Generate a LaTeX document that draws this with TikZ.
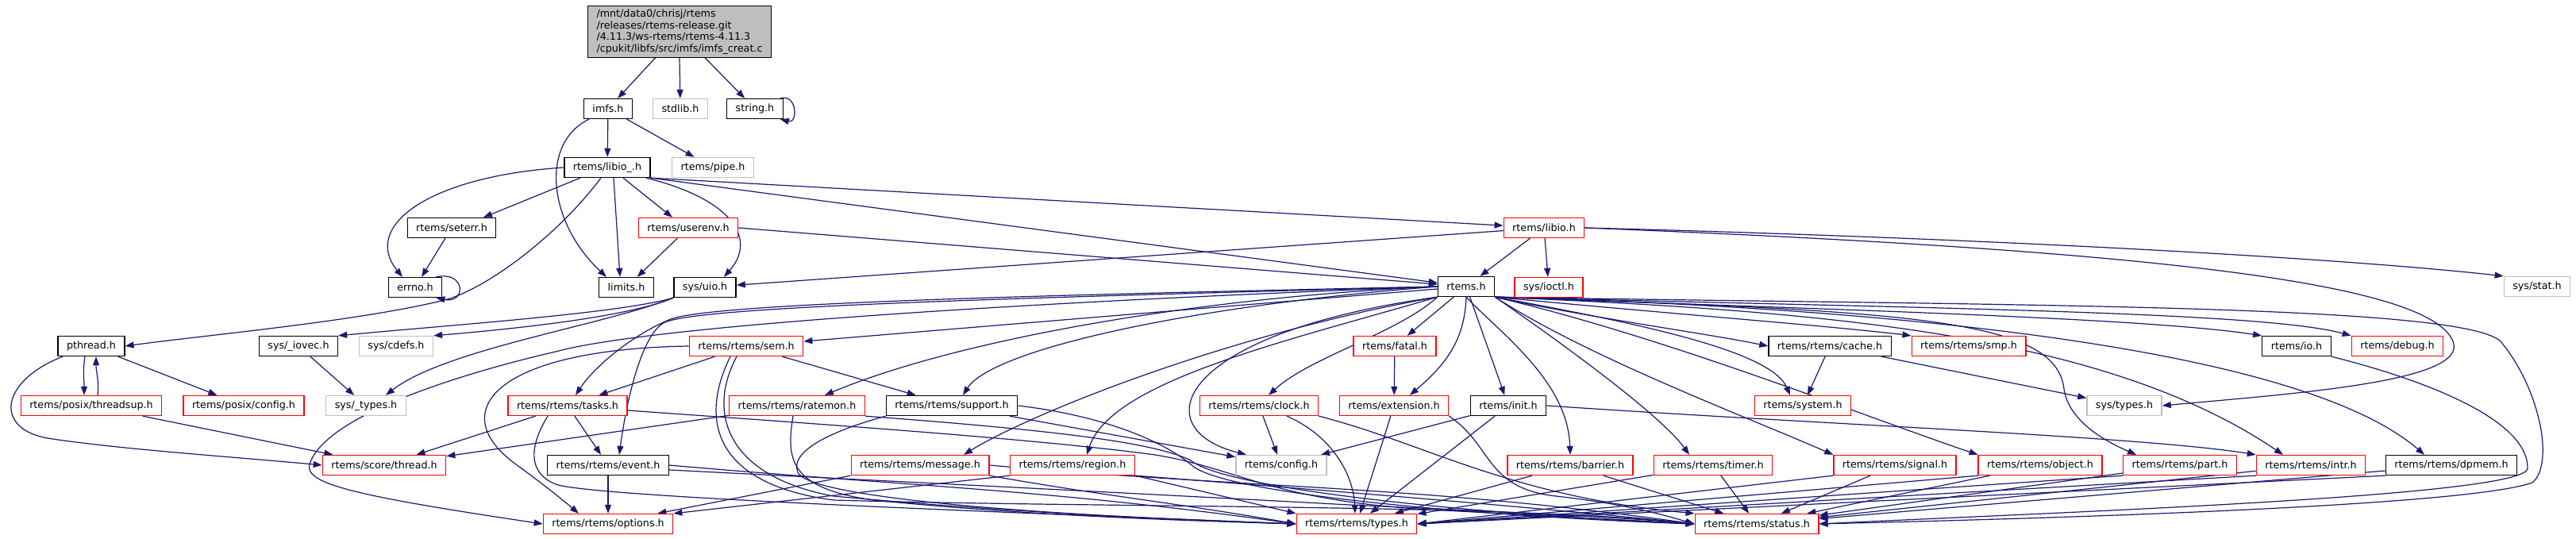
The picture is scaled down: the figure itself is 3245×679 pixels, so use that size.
\documentclass[tikz,border=0pt]{standalone}
\usepackage{fontspec}
\setmainfont{DejaVu Sans}
\usetikzlibrary{arrows.meta,backgrounds}
\definecolor{edgeblue}{HTML}{191970}
\definecolor{boxgray}{HTML}{BFBFBF}
\definecolor{boxred}{HTML}{FF0000}
\tikzset{
  hdr/.style={draw=black, fill=white, line width=1.3pt, minimum height=25pt,
    inner xsep=11pt, inner ysep=0pt, font=\fontsize{12.7}{15}\selectfont},
  hdrred/.style={hdr, draw=boxred},
  hdrgray/.style={hdr, draw=boxgray},
  dep/.style={->, draw=edgeblue, line width=1.2pt},
  >={Triangle[length=11pt,width=8pt]}
}
\begin{document}
\begin{tikzpicture}[x=1pt,y=1pt]
			\useasboundingbox (0,0) rectangle (3245,-679);
			% headers
			\node[hdr, fill=boxgray, align=left, inner ysep=4pt, font=\fontsize{12.7}{14.6}\selectfont] (main) at (856,-40) {/mnt/data0/chrisj/rtems\\/releases/rtems-release.git\\/4.11.3/ws-rtems/rtems-4.11.3\\/cpukit/libfs/src/imfs/imfs\_creat.c};
			\node[hdr] (imfs) at (766,-137) {imfs.h};
			\node[hdrgray] (stdlib) at (857,-137) {stdlib.h};
			\node[hdr] (string) at (951,-137) {string.h};
			\node[hdr] (libioi) at (765,-211) {rtems/libio\_.h};
			\node[hdrgray] (pipe) at (898,-211) {rtems/pipe.h};
			\node[hdr] (seterr) at (569,-287) {rtems/seterr.h};
			\node[hdrred] (userenv) at (867,-287) {rtems/userenv.h};
			\node[hdrred] (libio) at (1945,-287) {rtems/libio.h};
			\node[hdr] (errno) at (523,-362) {errno.h};
			\node[hdr] (limits) at (789,-362) {limits.h};
			\node[hdr] (uio) at (888,-362) {sys/uio.h};
			\node[hdr] (rtemsh) at (1847,-361) {rtems.h};
			\node[hdrred] (ioctl) at (1951,-362) {sys/ioctl.h};
			\node[hdrgray] (stat) at (3196,-361) {sys/stat.h};
			\node[hdr] (pthread) at (115,-436) {pthread.h};
			\node[hdr] (iovec) at (376,-436) {sys/\_iovec.h};
			\node[hdrgray] (cdefs) at (499,-436) {sys/cdefs.h};
			\node[hdrred] (sem) at (940,-436) {rtems/rtems/sem.h};
			\node[hdrred] (fatal) at (1757,-436) {rtems/fatal.h};
			\node[hdr] (cache) at (2305,-436) {rtems/rtems/cache.h};
			\node[hdrred] (smp) at (2480,-436) {rtems/rtems/smp.h};
			\node[hdr] (io) at (2893,-436) {rtems/io.h};
			\node[hdrred] (debug) at (3020,-436) {rtems/debug.h};
			\node[hdrred] (threadsup) at (115,-511) {rtems/posix/threadsup.h};
			\node[hdrred] (posixcfg) at (307,-511) {rtems/posix/config.h};
			\node[hdrgray] (ustypes) at (461,-511) {sys/\_types.h};
			\node[hdrred] (tasks) at (715,-511) {rtems/rtems/tasks.h};
			\node[hdrred] (ratemon) at (1004,-511) {rtems/rtems/ratemon.h};
			\node[hdr] (support) at (1199,-511) {rtems/rtems/support.h};
			\node[hdrred] (clock) at (1586,-511) {rtems/rtems/clock.h};
			\node[hdrred] (extension) at (1756,-511) {rtems/extension.h};
			\node[hdr] (init) at (1900,-511) {rtems/init.h};
			\node[hdrred] (system) at (2271,-511) {rtems/system.h};
			\node[hdrgray] (systypes) at (2676,-511) {sys/types.h};
			\node[hdrred] (thread) at (484,-586) {rtems/score/thread.h};
			\node[hdr] (event) at (766,-586) {rtems/rtems/event.h};
			\node[hdrred] (message) at (1159,-586) {rtems/rtems/message.h};
			\node[hdrred] (region) at (1351,-586) {rtems/rtems/region.h};
			\node[hdrgray] (config) at (1614,-586) {rtems/config.h};
			\node[hdrred] (barrier) at (1978,-586) {rtems/rtems/barrier.h};
			\node[hdrred] (timer) at (2158,-586) {rtems/rtems/timer.h};
			\node[hdrred] (signal) at (2387,-586) {rtems/rtems/signal.h};
			\node[hdrred] (object) at (2570,-586) {rtems/rtems/object.h};
			\node[hdrred] (part) at (2746,-586) {rtems/rtems/part.h};
			\node[hdrred] (intr) at (2911,-586) {rtems/rtems/intr.h};
			\node[hdr] (dpmem) at (3088,-586) {rtems/rtems/dpmem.h};
			\node[hdrred] (options) at (766,-660) {rtems/rtems/options.h};
			\node[hdrred] (types) at (1709,-660) {rtems/rtems/types.h};
			\node[hdrred] (status) at (2213,-660) {rtems/rtems/status.h};
			\begin{scope}[on background layer]
			% includes
			\draw[dep] (main) -- (imfs);
			\draw[dep] (main.south) -- (stdlib);
			\draw[dep] (main) -- (string);
			\draw[dep] ([xshift=-4pt]string.north east) .. controls +(22,6) and +(22,-6) .. ([xshift=-4pt]string.south east);
			\draw[dep] (imfs) -- (libioi);
			\draw[dep] (imfs) -- (pipe);
			\draw[dep] ([xshift=-24pt]imfs.south) .. controls (680,-180) and (690,-280) .. ([xshift=-25pt]limits.north);
			\draw[dep] (libioi.west) .. controls (540,-222) and (455,-285) .. ([xshift=-16pt]errno.north);
			\draw[dep] ([xshift=-34pt]libioi.south) -- ([xshift=40pt]seterr.north);
			\draw[dep] ([xshift=-8pt]libioi.south) .. controls (700,-300) and (610,-365) .. (560,-378) .. controls (450,-405) and (260,-422) .. (pthread.east);
			\draw[dep] ([xshift=8pt]libioi.south) -- ([xshift=-8pt]limits.north);
			\draw[dep] ([xshift=20pt]libioi.south) -- ([xshift=-20pt]userenv.north);
			\draw[dep] ([xshift=-6pt]libioi.south east) .. controls (920,-250) and (955,-300) .. ([xshift=24pt]uio.north);
			\draw[dep] (libioi.south east) -- (rtemsh);
			\draw[dep] (libioi.south east) -- (libio);
			\draw[dep] (seterr) -- (errno);
			\draw[dep] ([xshift=-8pt]errno.north east) .. controls +(38,8) and +(38,-8) .. ([xshift=-8pt]errno.south east);
			\draw[dep] (userenv) -- (limits);
			\draw[dep] (userenv.east) -- (rtemsh);
			\draw[dep] (libio) -- (uio);
			\draw[dep] (libio) -- (rtemsh);
			\draw[dep] (libio) -- (ioctl);
			\draw[dep] (libio.east) .. controls (2500,-300) and (2950,-325) .. (stat.north west);
			\draw[dep] (libio.east) .. controls (2700,-315) and (3060,-355) .. (3090,-430) .. controls (3110,-480) and (2900,-495) .. (systypes.east);
			\draw[dep] (uio.south west) .. controls (780,-395) and (560,-410) .. (iovec.north east);
			\draw[dep] (uio.south west) .. controls (790,-400) and (640,-415) .. (cdefs.north east);
			\draw[dep] (uio.south west) .. controls (760,-410) and (560,-440) .. ([xshift=25pt]ustypes.north);
			\draw[dep] (iovec) -- (ustypes);
			\draw[dep] ([xshift=-8pt]pthread.south) .. controls +(-3,-20) and +(0,20) .. ([xshift=-9pt]threadsup.north);
			\draw[dep] ([xshift=8pt]threadsup.north) .. controls +(2,20) and +(0,-20) .. ([xshift=6pt]pthread.south);
			\draw[dep] (pthread) -- (posixcfg);
			\draw[dep] ([xshift=-36pt]pthread.south) .. controls (0,-480) and (-8,-540) .. (60,-552) .. controls (150,-566) and (300,-576) .. (thread.west);
			\draw[dep] (threadsup) -- (thread);
			% rtems.h
			\draw[dep] (rtemsh) -- (sem);
			\draw[dep] (rtemsh.west) .. controls (1300,-372) and (900,-382) .. (845,-402) .. controls (800,-420) and (750,-460) .. ([xshift=10pt]tasks.north);
			\draw[dep] (rtemsh.west) .. controls (1300,-375) and (900,-385) .. (840,-405) .. controls (810,-415) and (790,-500) .. ([xshift=14pt]event.north);
			\draw[dep] (rtemsh.west) .. controls (1300,-380) and (820,-410) .. (700,-443) .. controls (600,-466) and (410,-520) .. (390,-585) .. controls (383,-610) and (450,-625) .. (options.west);
			\draw[dep] (rtemsh.west) .. controls (1500,-375) and (1200,-430) .. ([xshift=35pt]ratemon.north);
			\draw[dep] (rtemsh.west) .. controls (1500,-385) and (1250,-440) .. ([xshift=14pt]support.north);
			\draw[dep] (rtemsh.south west) .. controls (1550,-420) and (1300,-520) .. ([xshift=55pt]message.north);
			\draw[dep] (rtemsh.south west) .. controls (1620,-430) and (1400,-480) .. ([xshift=18pt]region.north);
			\draw[dep] (rtemsh.south west) .. controls (1480,-420) and (1440,-540) .. ([xshift=-44pt]config.north);
			\draw[dep] (rtemsh.south west) .. controls (1760,-420) and (1650,-450) .. ([xshift=12pt]clock.north);
			\draw[dep] (rtemsh) -- (fatal);
			\draw[dep] (rtemsh.south) .. controls (1845,-430) and (1820,-460) .. ([xshift=20pt]extension.north);
			\draw[dep] (rtemsh) -- (init);
			\draw[dep] (rtemsh.south) .. controls (1890,-420) and (1975,-480) .. (barrier.north);
			\draw[dep] (rtemsh.south east) .. controls (1950,-420) and (2090,-520) .. ([xshift=-30pt]timer.north);
			\draw[dep] (rtemsh.south east) .. controls (2000,-450) and (2200,-525) .. (signal.north west);
			\draw[dep] (rtemsh.south east) .. controls (2100,-425) and (2350,-525) .. (object.north west);
			\draw[dep] (rtemsh.south east) .. controls (2400,-392) and (2590,-400) .. (2600,-490) .. controls (2606,-530) and (2650,-555) .. ([xshift=-55pt]part.north);
			\draw[dep] (rtemsh.south east) .. controls (2300,-392) and (2650,-420) .. ([xshift=-35pt]intr.north);
			\draw[dep] (rtemsh.south east) .. controls (2400,-388) and (2900,-440) .. ([xshift=-34pt]dpmem.north);
			\draw[dep] (rtemsh.south east) .. controls (2000,-400) and (2150,-420) .. (cache.west);
			\draw[dep] (rtemsh.south east) .. controls (2100,-395) and (2300,-410) .. (smp.north west);
			\draw[dep] (rtemsh.south east) .. controls (2050,-405) and (2230,-440) .. ([xshift=-16pt]system.north);
			\draw[dep] (rtemsh.south east) .. controls (2300,-390) and (2700,-400) .. (io.north west);
			\draw[dep] (rtemsh.south east) .. controls (2400,-388) and (2850,-392) .. (debug.north west);
			\draw[dep] (rtemsh.south east) .. controls (2500,-385) and (3100,-382) .. (3150,-430) .. controls (3200,-490) and (3218,-585) .. (3190,-608) .. controls (3100,-640) and (2500,-655) .. (status.east);
			% rtems/rtems
			\draw[dep] (sem) -- (tasks);
			\draw[dep] (sem) -- (support);
			\draw[dep] (sem.west) .. controls (620,-440) and (560,-520) .. (650,-585) .. controls (690,-614) and (715,-635) .. ([xshift=-37pt]options.north);
			\draw[dep] ([xshift=-12pt]sem.south) .. controls (890,-520) and (915,-600) .. (1050,-625) .. controls (1300,-648) and (1500,-655) .. (types.west);
			\draw[dep] ([xshift=-20pt]sem.south) .. controls (880,-530) and (900,-610) .. (1050,-630) .. controls (1400,-640) and (1900,-635) .. (status.west);
			\draw[dep] (tasks) -- (event);
			\draw[dep] (tasks) -- (thread);
			\draw[dep] ([xshift=-25pt]tasks.south) .. controls (668,-560) and (663,-595) .. (700,-610) .. controls (750,-628) and (1400,-650) .. (types.west);
			\draw[dep] ([yshift=-6pt]tasks.east) .. controls (1000,-532) and (1300,-552) .. (1455,-573) .. controls (1560,-590) and (1600,-630) .. (1800,-642) .. controls (1950,-650) and (2050,-655) .. (status.west);
			\draw[dep] (event) -- (options);
			\draw[dep] (event.east) to[out=-5,in=172] (types.west);
			\draw[dep] ([yshift=-6pt]event.east) .. controls (1100,-605) and (1500,-625) .. (1700,-636) .. controls (1900,-645) and (2050,-652) .. (status.west);
			\draw[dep] (ratemon) -- (thread);
			\draw[dep] ([xshift=-5pt]ratemon.south) .. controls (990,-580) and (995,-615) .. (1100,-630) .. controls (1300,-650) and (1500,-656) .. (types.west);
			\draw[dep] (ratemon.south east) .. controls (1300,-540) and (1450,-555) .. (1500,-580) .. controls (1550,-620) and (1900,-650) .. (status.west);
			\draw[dep] (support) -- (config);
			\draw[dep] (support.south west) .. controls (1040,-545) and (995,-570) .. (1005,-595) .. controls (1015,-620) and (1200,-645) .. (types.west);
			\draw[dep] (support.east) .. controls (1400,-525) and (1470,-560) .. (1500,-585) .. controls (1540,-625) and (1900,-652) .. (status.west);
			\draw[dep] (message.south west) -- ([xshift=-20pt]options.north east);
			\draw[dep] (message.south east) to[out=-10,in=170] (types.west);
			\draw[dep] (message.east) to[out=-5,in=172] (status.west);
			\draw[dep] (region.south west) -- (options.north east);
			\draw[dep] (region.south east) -- (types.north west);
			\draw[dep] (region.south east) .. controls (1600,-612) and (1950,-640) .. (status.west);
			\draw[dep] (clock) -- (config);
			\draw[dep] ([xshift=35pt]clock.south) .. controls (1680,-550) and (1705,-600) .. ([xshift=-2pt]types.north);
			\draw[dep] (clock.south east) .. controls (1800,-560) and (1900,-625) .. (status.north west);
			\draw[dep] (fatal) -- (extension);
			\draw[dep] (extension) -- (types);
			\draw[dep] (extension.south east) .. controls (1880,-560) and (1870,-615) .. (1960,-625) .. controls (2050,-635) and (2100,-650) .. (status.west);
			\draw[dep] (init) -- (config);
			\draw[dep] (init) -- (types);
			\draw[dep] (init.east) .. controls (2300,-535) and (2700,-550) .. (intr.north west);
			\draw[dep] (barrier) -- (types);
			\draw[dep] (barrier) -- (status);
			\draw[dep] (timer) -- (types);
			\draw[dep] (timer) -- (status);
			\draw[dep] (signal.south west) -- (types.east);
			\draw[dep] (signal) -- (status);
			\draw[dep] (object.south west) -- (types.east);
			\draw[dep] (object) -- (status);
			\draw[dep] (part.south west) -- (types.east);
			\draw[dep] (part) -- (status);
			\draw[dep] (intr.south west) -- (types.east);
			\draw[dep] (intr) -- (status);
			\draw[dep] (dpmem.south west) -- (types.east);
			\draw[dep] (dpmem) -- (status);
			\draw[dep] (cache) -- (system);
			\draw[dep] (cache) -- (systypes);
			\draw[dep] (io.south east) .. controls (3060,-480) and (3185,-530) .. (3184,-590) .. controls (3183,-625) and (2600,-645) .. (status.east);
			\end{scope}
\end{tikzpicture}
\end{document}
